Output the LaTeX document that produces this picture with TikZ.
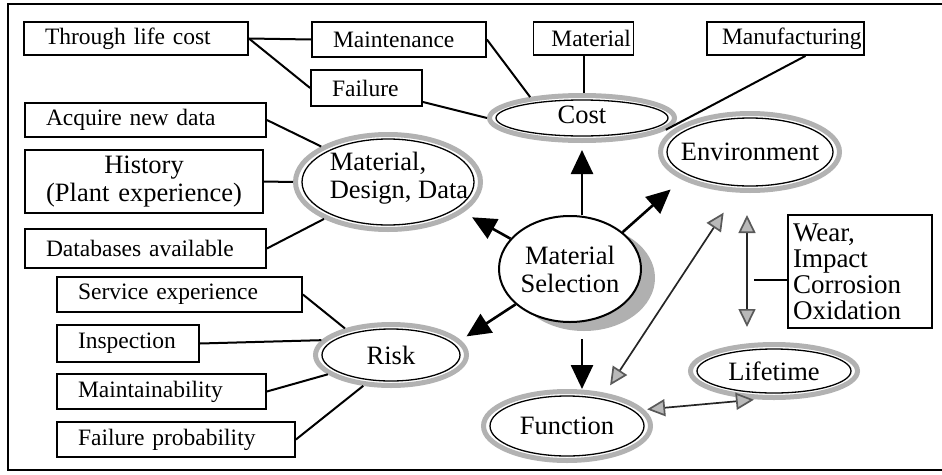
\documentclass[tikz,border=0pt]{standalone}
\usepackage{fontspec}
\setmainfont{Liberation Serif}
\usetikzlibrary{arrows.meta,shapes.geometric,shadows}
\newcommand\bxfont{\fontsize{23.5}{26}\selectfont}
\newcommand\rgfont{\fontsize{26.5}{28}\selectfont}
\newcommand\wrfont{\fontsize{27}{26}\selectfont}

\begin{document}
\begin{tikzpicture}[x=1pt,y=-1pt,
  frame/.style={line width=2.2pt},
  box/.style={draw, line width=1.8pt, inner ysep=0pt, inner xsep=21pt, align=left, font=\bxfont},
  ring/.style={ellipse, draw=gray!60, line width=5pt, inner sep=0pt, fill=white},
  ringlabel/.style={font=\rgfont, align=center, inner sep=0pt},
  innerring/.style={line width=1.3pt},
  link/.style={line width=2pt},
  bigarrow/.style={line width=2.6pt, -{Triangle[length=24pt,width=22pt]}},
  greyarrow/.style={line width=1.7pt, draw=black!85,
    {Triangle[length=18pt,width=17pt,color=gray!70!black,fill=gray!55]}-{Triangle[length=18pt,width=17pt,color=gray!70!black,fill=gray!55]}},
  centre/.style={ellipse, draw, line width=2pt, fill=white, inner sep=0pt, font=\rgfont, align=center,
    drop shadow={shadow xshift=14pt, shadow yshift=-9pt, fill=gray!62, opacity=1}}]

\useasboundingbox (0,0) rectangle (942,474);

% outer frame (open on the right)
\draw[frame] (942,4) -- (8,4) -- (8,470) -- (942,470);

% ---- text boxes ----
\node[box, text width=182pt, minimum height=33pt] (tlc)   at (136,38.5)  {Through life cost};
\node[box, text width=132pt, minimum height=35pt] (maint) at (399,39.5)  {Maintenance};
\node[box, text width=69pt,  minimum height=36pt] (fail)  at (366.5,88)  {Failure};
\node[box, text width=95pt, inner xsep=2.5pt, align=right, minimum height=33pt] (mat) at (583.5,38.5) {Material};
\node[box, text width=127pt, inner xsep=15pt, align=center, minimum height=33pt] (manuf) at (785.5,38.5) {Manufacturing};

\node[box, text width=199pt, minimum height=34pt] (acq)  at (145.5,120)   {Acquire new data};
\node[box, text width=196pt, align=center, minimum height=63pt, font=\rgfont] (hist) at (144,181.5) {History\\(Plant experience)};
\node[box, text width=199pt, minimum height=39pt] (db)   at (145.5,248.5) {Databases available};

\node[box, text width=203pt, minimum height=35pt] (serv)   at (179.5,294.5) {Service experience};
\node[box, text width=100pt, minimum height=37pt] (insp)   at (128,343.5)   {Inspection};
\node[box, text width=167pt, minimum height=35pt] (maintb) at (161.5,391.5) {Maintainability};
\node[box, text width=196pt, minimum height=35pt] (fprob)  at (176,439.5)   {Failure probability};

\node[box, text width=134pt, inner xsep=5pt, minimum height=113pt, font=\wrfont] (wear) at (860,271.5)
  {Wear,\\Impact\\Corrosion\\Oxidation};

% ---- ringed ellipses ----
\node[ring, minimum width=185pt, minimum height=45pt,
      label={[ringlabel,yshift=3pt]center:Cost}] (cost) at (582,118) {};
\node[ring, minimum width=179pt, minimum height=77pt,
      label={[ringlabel]center:Environment}] (env) at (750,152) {};
\node[ring, minimum width=185pt, minimum height=95pt,
      label={[ringlabel,xshift=11pt,yshift=4pt,align=left]center:{Material,\\Design, Data}}] (mdd) at (388,182) {};
\node[ring, minimum width=151pt, minimum height=61pt,
      label={[ringlabel]center:Risk}] (risk) at (391,355) {};
\node[ring, minimum width=167pt, minimum height=69pt,
      label={[ringlabel]center:Function}] (func) at (567,426) {};
\node[ring, minimum width=167pt, minimum height=53pt,
      label={[ringlabel]center:Lifetime}] (life) at (774,371) {};

% inner outlines of the rings
\draw[innerring] (cost.center) ellipse [x radius=86pt, y radius=18pt];
\draw[innerring] (env.center)  ellipse [x radius=83pt, y radius=34pt];
\draw[innerring] (mdd.center)  ellipse [x radius=86pt, y radius=43pt];
\draw[innerring] (risk.center) ellipse [x radius=69pt, y radius=26pt];
\draw[innerring] (func.center) ellipse [x radius=77pt, y radius=30pt];
\draw[innerring] (life.center) ellipse [x radius=77pt, y radius=22pt];

% ---- central node ----
\node[centre, minimum width=142pt, minimum height=106pt] (ms) at (570,269) {Material\\Selection};

% ---- links from boxes to their topics ----
\draw[link] (tlc.east) -- (maint.west);
\draw[link] (tlc.east) -- (fail.west);
\draw[link] (maint.east) -- (cost.158);
\draw[link] ([yshift=-14pt]fail.east) -- (cost.west);
\draw[link] (mat.south) -- (mat.south |- cost.north);
\draw[link] ([xshift=20pt]manuf.south) -- (cost.-8);

\draw[link] (acq.east) -- (mdd.152);
\draw[link] (hist.east) -- (mdd.west);
\draw[link] (db.east) -- (mdd.210);

\draw[link] (serv.east) -- (risk.150);
\draw[link] (insp.east) -- (risk.168);
\draw[link] (maintb.east) -- (risk.197);
\draw[link] (fprob.east) -- (risk.228);

% ---- arrows out of the central node ----
\draw[bigarrow, shorten >=7pt] (cost.south |- ms.north) -- (cost.south);
\draw[bigarrow, shorten >=15pt] (ms.35) -- (env.202);
\draw[bigarrow, shorten >=10pt] (ms.153) -- (mdd.338);
\draw[bigarrow, shorten >=7pt] (ms.213) -- (risk.12);
\draw[bigarrow] ([xshift=12pt,yshift=-16pt]ms.south) -- ([xshift=12pt]ms.south |- func.north);

% ---- two-way relations ----
\draw[greyarrow, shorten <=9pt, shorten >=24pt] (func.41) -- (env.252);
\draw[greyarrow, shorten <=22pt, shorten >=15pt] ([xshift=-3pt]env.south) -- ([xshift=-3pt]env.south |- life.north);
\draw[greyarrow, shorten <=3pt, shorten >=3pt] (func.12) -- (life.239);
\draw[link] ([yshift=-8pt]wear.west) -- ++(-33,0);

\end{tikzpicture}
\end{document}
